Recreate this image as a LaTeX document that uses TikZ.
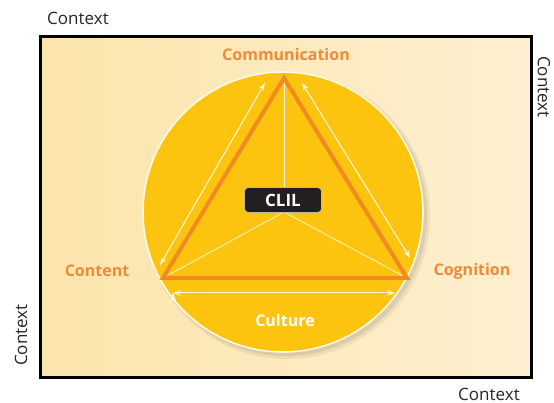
\documentclass[tikz,border=0pt]{standalone}
\usepackage{fontspec}
\setmainfont{Open Sans}
\usetikzlibrary{positioning,arrows.meta}
\definecolor{paleleft}{HTML}{FCE5AC}
\definecolor{paleright}{HTML}{FDEFD0}
\definecolor{disc}{HTML}{FCC40F}
\definecolor{tri}{HTML}{F28A1F}
\definecolor{label}{HTML}{EF8A38}
\definecolor{pale}{HTML}{FFF8E0}
\definecolor{boxdark}{HTML}{231F20}

\begin{document}
\begin{tikzpicture}[x=1pt, y=-1pt,
    ctx/.style={font=\fontsize{17}{20}\selectfont, text=black!85, inner sep=1pt},
    corner/.style={font=\fontsize{16}{19}\selectfont\bfseries, text=label},
    thin line/.style={draw=pale, line width=0.7pt},
    twoway/.style={draw=pale, line width=1pt,
      {Stealth[length=8pt,width=5.5pt]}-{Stealth[length=8pt,width=5.5pt]}}]
  \useasboundingbox (0,0) rectangle (554,403);

  \shade[left color=paleleft, right color=paleright] (40,37) rectangle (531,377);
  \draw[line width=3pt] (40,37) rectangle (531,377);

  \fill[black, opacity=0.06] (287,216) circle (143);
  \fill[black, opacity=0.08] (286,215) circle (141);
  \filldraw[fill=disc, draw=white!90!disc, line width=1.6pt] (283,212) circle (140);

  \coordinate (top) at (284,78);
  \coordinate (left) at (163,278);
  \coordinate (right) at (407,278);
  \coordinate (mid) at (284,212);

  \path[thin line] (mid) edge (top) edge (left) edge (right);
  \draw[tri, line width=4pt, line join=miter] (top) -- (left) -- (right) -- cycle;

  \node (clil) [fill=boxdark, draw=pale!70!boxdark, line width=0.6pt, rounded corners=4pt,
    minimum width=77pt, minimum height=25pt, inner sep=0pt, text=white,
    font=\fontsize{17}{20}\selectfont\bfseries] at (283,200) {CLIL};

  \coordinate (l1) at (160,265);  \coordinate (l2) at (265,83);
  \coordinate (r1) at (302,83);   \coordinate (r2) at (410,258);
  \coordinate (b1) at (173,293);  \coordinate (b2) at (395,293);
  \path[twoway] (l1) edge (l2) (r1) edge (r2) (b1) edge (b2);

  \node (comm) [corner] at (286,55) {Communication};
  \node (cont) [corner] at (97,271) {Content};
  \node (cogn) [corner] at (472,271) {Cognition};
  \node (cult) [corner, text=white] at (285,320) {Culture};

  \node (ctxtop) [ctx] at (78,18) {Context};
  \node (ctxright) [ctx, rotate=-90] at (544,87) {Context};
  \node (ctxleft) [ctx, rotate=90] at (21,335) {Context};
  \node (ctxbottom) [ctx] at (489,394) {Context};
\end{tikzpicture}
\end{document}
